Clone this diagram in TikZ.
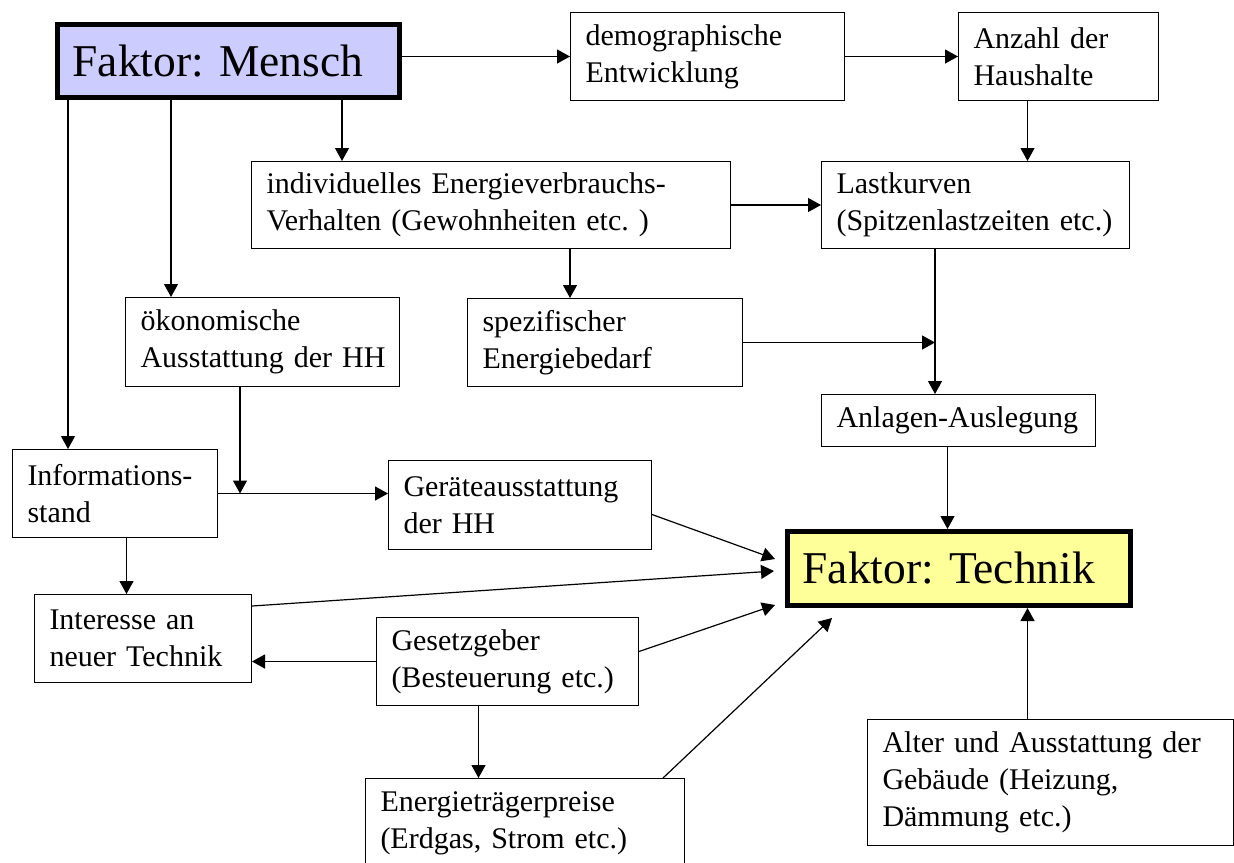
\documentclass[tikz,border=0pt]{standalone}
\usepackage{fontspec}
\setmainfont{Liberation Serif}
\usetikzlibrary{arrows.meta, calc}
\definecolor{M}{HTML}{CCCCFF}
\definecolor{T}{HTML}{FFFF99}
\frenchspacing

\begin{document}
\begin{tikzpicture}[->,>={Triangle[length=6.5pt, width=7pt]}, line width=0.6pt,
  x=0.5pt, y=-0.5pt,
  box/.style={draw, line width=0.5pt, anchor=north west, align=left,
    inner xsep=7.5pt, inner ysep=0pt,
    font=\fontsize{15pt}{18.5pt}\selectfont},
  big/.style={box, line width=2.5pt,
    font=\fontsize{22.75pt}{27pt}\selectfont}]
      \useasboundingbox (0,0) rectangle (1234,862);

      % Faktoren
      \node[big, fill=M, text width=156pt, minimum height=36.5pt] (M) at (55,22) {Faktor: Mensch};
      \node[big, fill=T, text width=156.5pt, minimum height=37pt] (T) at (785,529) {Faktor: Technik};

      \node[box, text width=122pt, minimum height=44pt] (D) at (570,12) {demographische\\Entwicklung};
      \node[box, text width=85pt, minimum height=44pt] (H) at (958,12) {Anzahl der\\Haushalte};
      \node[box, text width=224.5pt, minimum height=43.5pt] (V) at (251,161) {individuelles Energieverbrauchs-\\Verhalten (Gewohnheiten etc. )};
      \node[box, text width=139pt, minimum height=43.5pt] (L) at (821,161) {Lastkurven\\(Spitzenlastzeiten~etc.)};
      \node[box, text width=122pt, minimum height=44.5pt] (O) at (125,297) {ökonomische\\Ausstattung~der~HH};
      \node[box, text width=122.5pt, minimum height=44pt] (S) at (467,298) {spezifischer\\Energiebedarf};
      \node[box, text width=122pt, minimum height=26pt] (A) at (821,394) {Anlagen-Auslegung};
      \node[box, text width=87.5pt, minimum height=44pt] (I) at (12,449) {Informations-\\stand};
      \node[box, text width=116.5pt, minimum height=44.5pt] (G) at (388,460) {Geräteausstattung\\der HH};
      \node[box, text width=93.5pt, minimum height=44pt] (N) at (34,594) {Interesse an\\neuer Technik};
      \node[box, text width=116pt, minimum height=44pt] (E) at (376,617) {Gesetzgeber\\(Besteuerung etc.)};
      \node[box, text width=144.5pt, minimum height=45pt] (P) at (365,778) {Energieträgerpreise\\(Erdgas, Strom etc.)};
      \node[box, text width=168pt, minimum height=63pt] (B) at (867,719) {Alter und Ausstattung der\\Gebäude (Heizung,\\Dämmung etc.)};

      % Abzweigpunkte
      \coordinate (m1) at ([xshift=6.5pt]M.south west);
      \coordinate (m2) at ([xshift=58pt]M.south west);
      \coordinate (m3) at ([xshift=143.5pt]M.south west);
      \coordinate (h1) at ([xshift=-15.5pt]H.south);
      \coordinate (v1) at ([xshift=159.5pt]V.south west);
      \coordinate (l1) at ([xshift=57pt]L.south west);
      \coordinate (o1) at ([xshift=57.5pt]O.south west);
      \coordinate (i1) at ([xshift=5.75pt]I.south);
      \coordinate (a1) at ([xshift=-5.5pt]A.south);
      \coordinate (e1) at ([xshift=-14.5pt]E.south);
      \coordinate (b1) at ([xshift=-11.5pt]B.north);

      \path
      (M.east |- D.west) edge (D.west)
      (D.east) edge (H.west)
      (h1) edge (h1 |- L.north)
      ;

      \path
      (m1) edge (m1 |- I.north)
      (m2) edge (m2 |- O.north)
      (m3) edge (m3 |- V.north)
      ;

      \path
      (V.east) edge (L.west)
      (v1) edge (v1 |- S.north)
      (l1) edge (l1 |- A.north)
      (S.east) edge (S.east -| l1)
      (a1) edge (a1 |- T.north)
      ;

      \path
      (o1) edge (o1 |- I.east)
      (I.east) edge (I.east -| G.west)
      (i1) edge (i1 |- N.north)
      ;

      \path
      ([yshift=-4.75pt]G.east) edge ([xshift=-5pt, yshift=4.75pt]T.west)
      ([yshift=-6pt]N.north east) edge ([xshift=-5.5pt, yshift=-1.25pt]T.west)
      ([yshift=5pt]E.east) edge ([xshift=-5pt, yshift=1.5pt]T.south west)
      ([xshift=-11pt]P.north east) edge ([xshift=23.5pt, yshift=-5pt]T.south west)
      (b1) edge (b1 |- T.south)
      ;

      \path
      (E.west) edge (E.west -| N.east)
      (e1) edge (e1 |- P.north)
      ;
\end{tikzpicture}
\end{document}
